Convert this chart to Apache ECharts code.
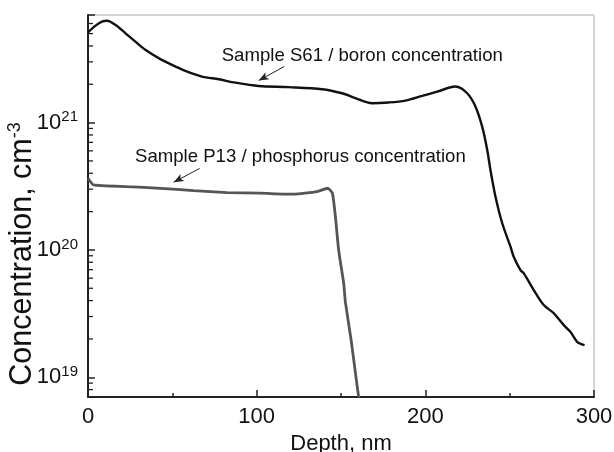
<!DOCTYPE html>
<html>
<head>
<meta charset="utf-8">
<script src="https://cdn.jsdelivr.net/npm/echarts@6/dist/echarts.min.js"></script>
<style>
html,body{margin:0;padding:0;background:#fff;}
#chart{width:614px;height:452px;}
</style>
</head>
<body>
<div id="chart"></div>
<script>
// Sample S61 / boron concentration
var boronDepth = [0, 4.3, 8.3, 11.3, 16.2, 22.1, 28.1, 34.0, 41.9, 49.8, 57.7, 67.6, 77.5, 87.4, 101.2, 119.0, 138.8, 150.7, 158.5, 168.4, 178.3, 188.2, 198.1, 207.0, 217.9, 224.8, 229.7, 233.7, 236.7, 238.6, 241.6, 245.6, 250.5, 252.4, 256.4, 258.4, 264.3, 270.2, 276.2, 282.1, 286.1, 290.0, 294.4];
var boronConc = [5.10e21, 5.75e21, 6.22e21, 6.31e21, 5.87e21, 5.05e21, 4.33e21, 3.73e21, 3.21e21, 2.84e21, 2.55e21, 2.30e21, 2.19e21, 2.06e21, 1.94e21, 1.90e21, 1.83e21, 1.70e21, 1.56e21, 1.42e21, 1.44e21, 1.49e21, 1.62e21, 1.75e21, 1.92e21, 1.70e21, 1.34e21, 9.3e20, 6.1e20, 4.25e20, 2.62e20, 1.62e20, 1.06e20, 8.85e19, 6.95e19, 6.55e19, 4.84e19, 3.69e19, 3.18e19, 2.57e19, 2.27e19, 1.90e19, 1.79e19];

// Sample P13 / phosphorus concentration
var phosDepth = [0, 3.3, 23.1, 42.9, 62.6, 82.4, 102.2, 121.9, 135.8, 142.2, 144.9, 146.7, 148.6, 151.6, 152.6, 156.0, 159.5, 160.5];
var phosConc = [3.66e20, 3.24e20, 3.14e20, 3.05e20, 2.92e20, 2.82e20, 2.79e20, 2.74e20, 2.87e20, 3.05e20, 2.79e20, 1.82e20, 9.98e19, 5.46e19, 3.89e19, 1.96e19, 8.67e18, 6.95e18];

// axis ticks
var xTicks = [0, 100, 200, 300];
var yMajorTicks = [1e19, 1e20, 1e21];
var yMinorTicks = [8e18, 9e18, 2e19, 3e19, 4e19, 5e19, 6e19, 7e19, 8e19, 9e19, 2e20, 3e20, 4e20, 5e20, 6e20, 7e20, 8e20, 9e20, 2e21, 3e21, 4e21, 5e21, 6e21];

// annotation arrows (data space): [fromDepth, fromConc, toDepth, toConc]
var boronArrow = [116.4, 2.76e21, 101.2, 2.14e21];
var phosArrow = [66.2, 4.37e20, 50.8, 3.40e20];

var FONT = '"Liberation Sans", Arial, sans-serif';

function zip(a, b) { return a.map(function (v, i) { return [v, b[i]]; }); }

var chart = echarts.init(document.getElementById('chart'), null, {renderer: 'canvas'});
var option = {
  animation: false,
  backgroundColor: '#fff',
  grid: {left: 88, right: 20, top: 15, bottom: 55, containLabel: false, outerBoundsMode: 'none',
    show: true, borderColor: '#aaa', borderWidth: 1, backgroundColor: 'transparent'},
  xAxis: {
    type: 'value', min: xTicks[0], max: xTicks[xTicks.length - 1], interval: 100,
    name: 'Depth, nm', nameLocation: 'middle', nameGap: 35,
    nameTextStyle: {fontSize: 22, color: '#111', fontFamily: FONT},
    axisLine: {show: true, onZero: false, lineStyle: {color: '#222', width: 2}},
    axisTick: {show: true, inside: true, length: 7, lineStyle: {color: '#222', width: 1.5}},
    minorTick: {show: true, splitNumber: 2, length: 4, lineStyle: {color: '#222', width: 1.5}},
    splitLine: {show: false},
    axisLabel: {fontSize: 22, color: '#111', fontFamily: FONT, margin: 9}
  },
  yAxis: {
    type: 'log', logBase: 10, min: 7e18, max: 7e21,
    axisLine: {show: true, onZero: false, lineStyle: {color: '#222', width: 2}},
    axisTick: {show: true, inside: true, length: 7, lineStyle: {color: '#222', width: 1.5}},
    splitLine: {show: false},
    axisLabel: {
      margin: 10, color: '#111', fontFamily: FONT,
      formatter: function (v) {
        var e = Math.log10(v);
        var r = Math.round(e);
        if (Math.abs(e - r) > 1e-6) return '';
        return '{b|10}{s|' + r + '}';
      },
      rich: {
        b: {fontSize: 22, lineHeight: 26, fontFamily: FONT, color: '#111'},
        s: {fontSize: 15, lineHeight: 12, verticalAlign: 'top', fontFamily: FONT, color: '#111'}
      }
    }
  },
  graphic: [
    {type: 'text', x: 23, y: 254, rotation: Math.PI / 2, silent: true,
     style: {text: '{m|Concentration, cm}{s|-3}', align: 'center', verticalAlign: 'middle',
       rich: {
         m: {fontSize: 30.5, lineHeight: 34, fontFamily: FONT, fill: '#111'},
         s: {fontSize: 18, lineHeight: 14, verticalAlign: 'top', fontFamily: FONT, fill: '#111'}
       }}},
    {type: 'text', x: 221.7, y: 56, silent: true,
     style: {text: 'Sample S61 / boron concentration', fontSize: 18.6, fontFamily: FONT, fill: '#111', align: 'left', verticalAlign: 'middle'}},
    {type: 'text', x: 135, y: 157.3, silent: true,
     style: {text: 'Sample P13 / phosphorus concentration', fontSize: 18.6, fontFamily: FONT, fill: '#111', align: 'left', verticalAlign: 'middle'}}
  ],
  series: [
    {
      name: 'Sample S61 / boron concentration', type: 'line', data: zip(boronDepth, boronConc),
      showSymbol: false, smooth: 0.3, lineStyle: {color: '#111', width: 2.4}, itemStyle: {color: '#111'},
      markLine: {silent: true, symbol: ['none', 'arrow'], symbolSize: [6, 10], animation: false,
        lineStyle: {color: '#222', width: 1, type: 'solid'}, label: {show: false},
        data: [[{coord: [boronArrow[0], boronArrow[1]]}, {coord: [boronArrow[2], boronArrow[3]]}]]}
    },
    {
      name: 'Sample P13 / phosphorus concentration', type: 'line', data: zip(phosDepth, phosConc),
      showSymbol: false, smooth: 0.15, lineStyle: {color: '#555', width: 2.8}, itemStyle: {color: '#555'},
      markLine: {silent: true, symbol: ['none', 'arrow'], symbolSize: [6, 10], animation: false,
        lineStyle: {color: '#222', width: 1, type: 'solid'}, label: {show: false},
        data: [[{coord: [phosArrow[0], phosArrow[1]]}, {coord: [phosArrow[2], phosArrow[3]]}]]}
    },
    {
      name: 'minor', type: 'custom', silent: true, clip: false,
      data: yMinorTicks.map(function (v) { return [0, v]; }),
      renderItem: function (params, api) {
        var p = api.coord([api.value(0), api.value(1)]);
        return {type: 'line', shape: {x1: p[0], y1: p[1], x2: p[0] + 5, y2: p[1]},
          style: {stroke: '#222', lineWidth: 1.3}};
      }
    }
  ]
};
chart.setOption(option);
</script>
</body>
</html>
